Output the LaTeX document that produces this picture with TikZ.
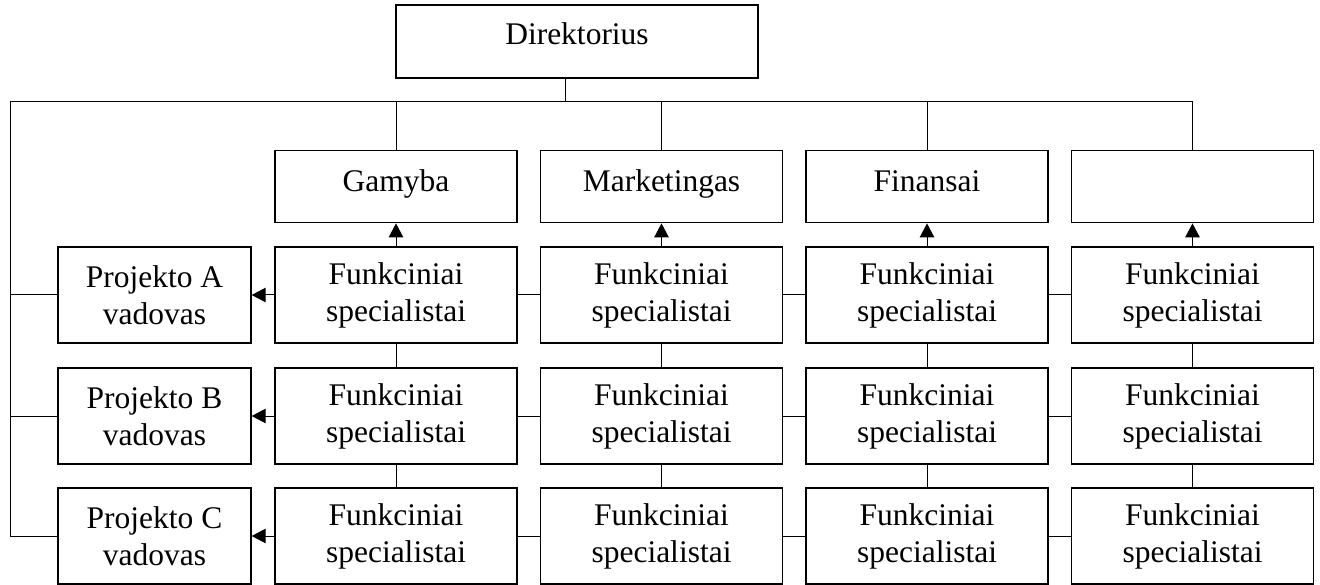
\documentclass[tikz,border=0pt]{standalone}
\usepackage{fontspec}
\setmainfont{Liberation Serif}
\usetikzlibrary{arrows.meta,calc}
\begin{document}
\begin{tikzpicture}[x=1pt,y=-1pt,
  box/.style={draw, line width=1.4pt, inner sep=0pt, align=center,
    font=\fontsize{31.5}{37}\selectfont},
  unitbox/.style={box, minimum width=242pt, minimum height=72pt,
    text height=22pt, text depth=12pt},
  staffbox/.style={box, minimum width=242pt, minimum height=96pt},
  leadbox/.style={box, minimum width=193pt, minimum height=96pt},
  link/.style={line width=1pt},
  toward/.style={link, -{Triangle[length=14pt,width=14.5pt]}},
]
\useasboundingbox (0,0) rectangle (1320,585);

% top management
\node[box, minimum width=362pt, minimum height=73pt,
      text height=22pt, text depth=15.5pt] (dir) at (577,41.7) {Direktorius};

% functional departments
\node[unitbox] (u1) at (396,186.7)   {Gamyba};
\node[unitbox] (u2) at (661.5,186.7) {Marketingas};
\node[unitbox] (u3) at (927,186.7)   {Finansai};
\node[unitbox] (u4) at (1192.5,186.7) {};

% project managers
\node[leadbox] (p1) at (154.5,295) {Projekto A\\vadovas};
\node[leadbox] (p2) at (154.5,416) {Projekto B\\vadovas};
\node[leadbox] (p3) at (154.5,536) {Projekto C\\vadovas};

% matrix of functional specialists
\foreach \r/\y in {1/295,2/416,3/536}{
  \foreach \c/\x in {1/396,2/661.5,3/927,4/1192.5}{
    \node[staffbox] (s\r\c) at (\x,\y) {Funkciniai\\specialistai};
  }
}

% bus from the director
\coordinate (hub) at (565,101.7);
\coordinate (busW) at (10,101.7);
\draw[link] (hub |- dir.south) -- (hub);
\draw[link] (u4.north) -- (u4.north |- busW) -- (busW) |- (p3.west);
\draw[link] (busW |- p1.west) -- (p1.west);
\draw[link] (busW |- p2.west) -- (p2.west);
\foreach \c in {1,2,3}{
  \draw[link] (u\c.north |- busW) -- (u\c.north);
}

% specialists report to their departments
\foreach \c in {1,2,3,4}{
  \draw[toward] (s1\c.north) -- (u\c.south);
  \draw[link] (s1\c.south) -- (s2\c.north);
  \draw[link] (s2\c.south) -- (s3\c.north);
}

% and to the project managers
\foreach \r in {1,2,3}{
  \draw[toward] (s\r1.west) -- (p\r.east);
  \draw[link] (s\r1.east) -- (s\r2.west);
  \draw[link] (s\r2.east) -- (s\r3.west);
  \draw[link] (s\r3.east) -- (s\r4.west);
}
\end{tikzpicture}
\end{document}
